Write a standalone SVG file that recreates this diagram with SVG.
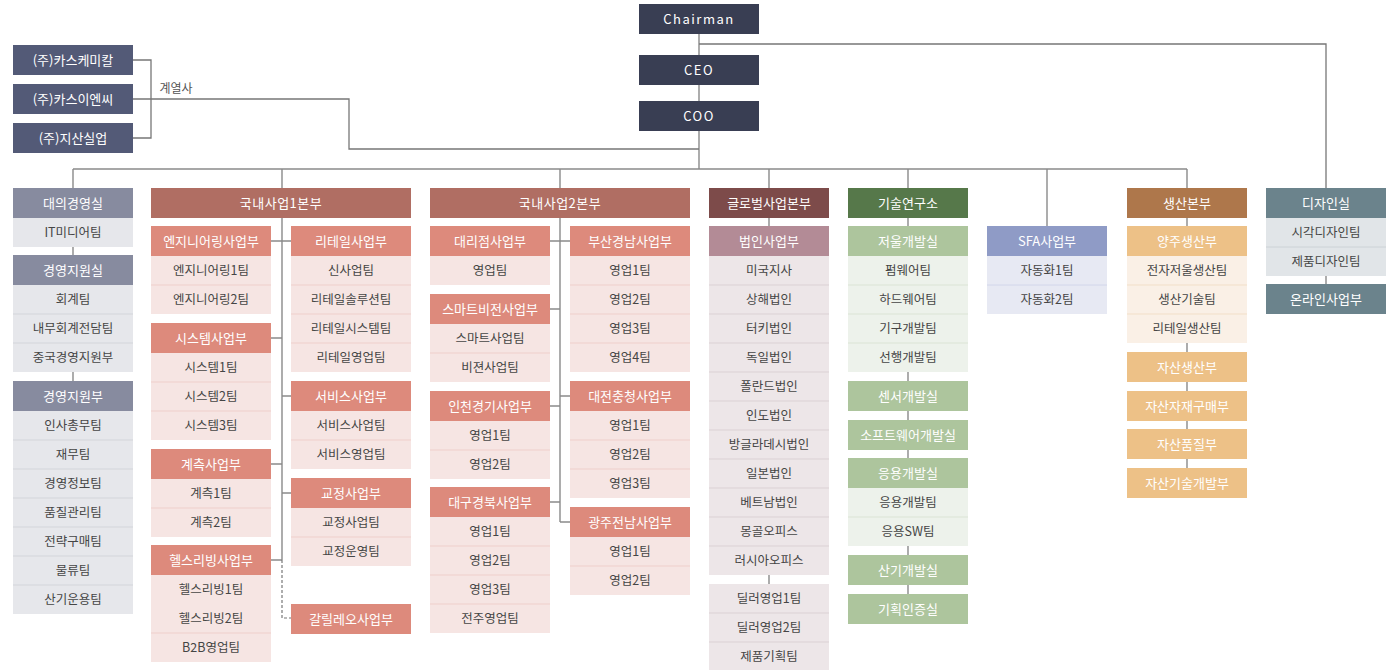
<svg xmlns="http://www.w3.org/2000/svg" width="1393" height="670" viewBox="0 0 1393 670">
<style>
text{font-family:"Noto Sans CJK KR","Noto Sans",sans-serif;text-anchor:middle;dominant-baseline:central;transform:translateY(-1px)}
.h{fill:#fff;font-size:13px}
.t{fill:#454545;font-size:12.5px}
.top{fill:#fff;font-size:13px;letter-spacing:1.5px}
.c{fill:none;stroke:#8a8a8a;stroke-width:1.4}
.c2{fill:none;stroke:#777;stroke-width:1.3}
.dash{fill:none;stroke:#777;stroke-width:1.2;stroke-dasharray:3 2}
.dv{stroke-width:1}
.navy{fill:#393e53}.aff{fill:#535a77}
.g1{fill:#878b9f}.g1i{fill:#e6e7eb}.g1d{stroke:#d3d5da}
.r1{fill:#b06e63}.r2{fill:#dd8a7c}.r2i{fill:#f6e5e3}.r2d{stroke:#efcfcb}
.m1{fill:#7d4b4a}.m2{fill:#b38b96}.m2i{fill:#ede6e8}.m2d{stroke:#dbd1d4}
.v1{fill:#56784a}.v2{fill:#adc59d}.v2i{fill:#edf2eb}.v2d{stroke:#dbe4d5}
.b2{fill:#8f9bc6}.b2i{fill:#e7e9f3}.b2d{stroke:#d2d6ea}
.o1{fill:#ae774b}.o2{fill:#edc187}.o2i{fill:#faf0e6}.o2d{stroke:#f2dfc8}
.s1{fill:#6b838c}.s1i{fill:#e1e5e8}.s1d{stroke:#ccd2d6}
</style>

<g id="connectors">
<path class="c" d="M699 34V55M699 85V101M699 131V169"/>
<path class="c2" d="M699 44H1326V188"/>
<path class="c2" d="M133 99H349V149H699"/>
<path class="c2" d="M133 60H151V138H133"/>
<text x="176" y="88" style="fill:#555;font-size:12px">계열사</text>
<path class="c" d="M73 169H1187"/>
<path class="c" d="M73 169V188M73 247V255M73 372V381"/>
<path class="c" d="M282 169V188M282 218V560M271 241H291M271 338H282M271 464H282M271 560H282M282 396H291M282 493H291"/>
<path class="dash" d="M282 560V618H291"/>
<path class="c" d="M560 169V188M560 218V522M550 241H570M550 309H560M550 406H560M550 502H560M560 396H570M560 522H570"/>
<path class="c" d="M769 169V188M769 218V226M769 575V584"/>
<path class="c" d="M908 169V188M908 218V226M908 372V381M908 411V420M908 450V458M908 546V555M908 585V594"/>
<path class="c" d="M1047 169V226"/>
<path class="c" d="M1187 169V188M1187 218V226M1187 343V352M1187 382V391M1187 421V429M1187 459V468"/>
<path class="c" d="M1326 276V284"/>
</g>

<g id="chairman"><rect class="navy" x="639" y="4" width="120" height="30"/><text class="top" x="699" y="19">Chairman</text></g>
<g id="ceo"><rect class="navy" x="639" y="55" width="120" height="30"/><text class="top" x="699" y="70">CEO</text></g>
<g id="coo"><rect class="navy" x="639" y="101" width="120" height="30"/><text class="top" x="699" y="116">COO</text></g>

<g id="aff-chemical"><rect class="aff" x="13" y="45" width="120" height="30"/><text class="h" x="73" y="60">(주)카스케미칼</text></g>
<g id="aff-enc"><rect class="aff" x="13" y="84" width="120" height="30"/><text class="h" x="73" y="99">(주)카스이엔씨</text></g>
<g id="aff-jisan"><rect class="aff" x="13" y="123" width="120" height="30"/><text class="h" x="73" y="138">(주)지산실업</text></g>

<!-- Column 1 -->
<g id="daeui">
<rect class="g1" x="13" y="188" width="120" height="30"/><text class="h" x="73" y="203">대의경영실</text>
<rect class="g1i" x="13" y="218" width="120" height="29"/><text class="t" x="73" y="232.5">IT미디어팀</text>
</g>
<g id="gyeongyeong-sil">
<rect class="g1" x="13" y="255" width="120" height="30"/><text class="h" x="73" y="270">경영지원실</text>
<rect class="g1i" x="13" y="285" width="120" height="87"/>
<path class="g1d dv" d="M13 314H133M13 343H133"/>
<text class="t" x="73" y="299.5">회계팀</text><text class="t" x="73" y="328.5">내무회계전담팀</text><text class="t" x="73" y="357.5">중국경영지원부</text>
</g>
<g id="gyeongyeong-bu">
<rect class="g1" x="13" y="381" width="120" height="30"/><text class="h" x="73" y="396">경영지원부</text>
<rect class="g1i" x="13" y="411" width="120" height="203"/>
<path class="g1d dv" d="M13 440H133M13 469H133M13 498H133M13 527H133M13 556H133M13 585H133"/>
<text class="t" x="73" y="425.5">인사총무팀</text><text class="t" x="73" y="454.5">재무팀</text><text class="t" x="73" y="483.5">경영정보팀</text><text class="t" x="73" y="512.5">품질관리팀</text><text class="t" x="73" y="541.5">전략구매팀</text><text class="t" x="73" y="570.5">물류팀</text><text class="t" x="73" y="599.5">산기운용팀</text>
</g>

<!-- 국내사업1본부 -->
<g id="domestic1"><rect class="r1" x="151" y="188" width="260" height="30"/><text class="h" x="281" y="203" style="letter-spacing:0.5px">국내사업1본부</text></g>
<g id="engineering">
<rect class="r2" x="151" y="226" width="120" height="30"/><text class="h" x="211" y="241">엔지니어링사업부</text>
<rect class="r2i" x="151" y="256" width="120" height="58"/><path class="r2d dv" d="M151 285H271"/>
<text class="t" x="211" y="270.5">엔지니어링1팀</text><text class="t" x="211" y="299.5">엔지니어링2팀</text>
</g>
<g id="system">
<rect class="r2" x="151" y="323" width="120" height="30"/><text class="h" x="211" y="338">시스템사업부</text>
<rect class="r2i" x="151" y="353" width="120" height="87"/><path class="r2d dv" d="M151 382H271M151 411H271"/>
<text class="t" x="211" y="367.5">시스템1팀</text><text class="t" x="211" y="396.5">시스템2팀</text><text class="t" x="211" y="425.5">시스템3팀</text>
</g>
<g id="measure">
<rect class="r2" x="151" y="449" width="120" height="30"/><text class="h" x="211" y="464">계측사업부</text>
<rect class="r2i" x="151" y="479" width="120" height="58"/><path class="r2d dv" d="M151 508H271"/>
<text class="t" x="211" y="493.5">계측1팀</text><text class="t" x="211" y="522.5">계측2팀</text>
</g>
<g id="healthliving">
<rect class="r2" x="151" y="545" width="120" height="30"/><text class="h" x="211" y="560">헬스리빙사업부</text>
<rect class="r2i" x="151" y="575" width="120" height="87"/><path class="r2d dv" d="M151 633H271"/>
<text class="t" x="211" y="589.5">헬스리빙1팀</text><text class="t" x="211" y="618.5">헬스리빙2팀</text><text class="t" x="211" y="647.5">B2B영업팀</text>
</g>
<g id="retail">
<rect class="r2" x="291" y="226" width="120" height="30"/><text class="h" x="351" y="241">리테일사업부</text>
<rect class="r2i" x="291" y="256" width="120" height="116"/><path class="r2d dv" d="M291 285H411M291 314H411M291 343H411"/>
<text class="t" x="351" y="270.5">신사업팀</text><text class="t" x="351" y="299.5">리테일솔루션팀</text><text class="t" x="351" y="328.5">리테일시스템팀</text><text class="t" x="351" y="357.5">리테일영업팀</text>
</g>
<g id="service">
<rect class="r2" x="291" y="381" width="120" height="30"/><text class="h" x="351" y="396">서비스사업부</text>
<rect class="r2i" x="291" y="411" width="120" height="58"/><path class="r2d dv" d="M291 440H411"/>
<text class="t" x="351" y="425.5">서비스사업팀</text><text class="t" x="351" y="454.5">서비스영업팀</text>
</g>
<g id="calibration">
<rect class="r2" x="291" y="478" width="120" height="30"/><text class="h" x="351" y="493">교정사업부</text>
<rect class="r2i" x="291" y="508" width="120" height="58"/><path class="r2d dv" d="M291 537H411"/>
<text class="t" x="351" y="522.5">교정사업팀</text><text class="t" x="351" y="551.5">교정운영팀</text>
</g>
<g id="galileo"><rect class="r2" x="291" y="604" width="120" height="30"/><text class="h" x="351" y="619">갈릴레오사업부</text></g>

<!-- 국내사업2본부 -->
<g id="domestic2"><rect class="r1" x="430" y="188" width="260" height="30"/><text class="h" x="560" y="203" style="letter-spacing:0.5px">국내사업2본부</text></g>
<g id="agency">
<rect class="r2" x="430" y="226" width="120" height="30"/><text class="h" x="490" y="241">대리점사업부</text>
<rect class="r2i" x="430" y="256" width="120" height="29"/><text class="t" x="490" y="270.5">영업팀</text>
</g>
<g id="smartvision">
<rect class="r2" x="430" y="294" width="120" height="30"/><text class="h" x="490" y="309">스마트비전사업부</text>
<rect class="r2i" x="430" y="324" width="120" height="58"/><path class="r2d dv" d="M430 353H550"/>
<text class="t" x="490" y="338.5">스마트사업팀</text><text class="t" x="490" y="367.5">비젼사업팀</text>
</g>
<g id="incheon">
<rect class="r2" x="430" y="391" width="120" height="30"/><text class="h" x="490" y="406">인천경기사업부</text>
<rect class="r2i" x="430" y="421" width="120" height="58"/><path class="r2d dv" d="M430 450H550"/>
<text class="t" x="490" y="435.5">영업1팀</text><text class="t" x="490" y="464.5">영업2팀</text>
</g>
<g id="daegu">
<rect class="r2" x="430" y="487" width="120" height="30"/><text class="h" x="490" y="502">대구경북사업부</text>
<rect class="r2i" x="430" y="517" width="120" height="116"/><path class="r2d dv" d="M430 546H550M430 575H550M430 604H550"/>
<text class="t" x="490" y="531.5">영업1팀</text><text class="t" x="490" y="560.5">영업2팀</text><text class="t" x="490" y="589.5">영업3팀</text><text class="t" x="490" y="618.5">전주영업팀</text>
</g>
<g id="busan">
<rect class="r2" x="570" y="226" width="120" height="30"/><text class="h" x="630" y="241">부산경남사업부</text>
<rect class="r2i" x="570" y="256" width="120" height="116"/><path class="r2d dv" d="M570 285H690M570 314H690M570 343H690"/>
<text class="t" x="630" y="270.5">영업1팀</text><text class="t" x="630" y="299.5">영업2팀</text><text class="t" x="630" y="328.5">영업3팀</text><text class="t" x="630" y="357.5">영업4팀</text>
</g>
<g id="daejeon">
<rect class="r2" x="570" y="381" width="120" height="30"/><text class="h" x="630" y="396">대전충청사업부</text>
<rect class="r2i" x="570" y="411" width="120" height="87"/><path class="r2d dv" d="M570 440H690M570 469H690"/>
<text class="t" x="630" y="425.5">영업1팀</text><text class="t" x="630" y="454.5">영업2팀</text><text class="t" x="630" y="483.5">영업3팀</text>
</g>
<g id="gwangju">
<rect class="r2" x="570" y="507" width="120" height="30"/><text class="h" x="630" y="522">광주전남사업부</text>
<rect class="r2i" x="570" y="537" width="120" height="58"/><path class="r2d dv" d="M570 566H690"/>
<text class="t" x="630" y="551.5">영업1팀</text><text class="t" x="630" y="580.5">영업2팀</text>
</g>

<!-- 글로벌 -->
<g id="global"><rect class="m1" x="709" y="188" width="120" height="30"/><text class="h" x="769" y="203">글로벌사업본부</text></g>
<g id="corporate">
<rect class="m2" x="709" y="226" width="120" height="30"/><text class="h" x="769" y="241">법인사업부</text>
<rect class="m2i" x="709" y="256" width="120" height="319"/>
<path class="m2d dv" d="M709 285H829M709 314H829M709 343H829M709 372H829M709 401H829M709 430H829M709 459H829M709 488H829M709 517H829M709 546H829"/>
<text class="t" x="769" y="270.5">미국지사</text><text class="t" x="769" y="299.5">상해법인</text><text class="t" x="769" y="328.5">터키법인</text><text class="t" x="769" y="357.5">독일법인</text><text class="t" x="769" y="386.5">폴란드법인</text><text class="t" x="769" y="415.5">인도법인</text><text class="t" x="769" y="444.5">방글라데시법인</text><text class="t" x="769" y="473.5">일본법인</text><text class="t" x="769" y="502.5">베트남법인</text><text class="t" x="769" y="531.5">몽골오피스</text><text class="t" x="769" y="560.5">러시아오피스</text>
</g>
<g id="dealer">
<rect class="m2i" x="709" y="584" width="120" height="87"/><path class="m2d dv" d="M709 613H829M709 642H829"/>
<text class="t" x="769" y="598.5">딜러영업1팀</text><text class="t" x="769" y="627.5">딜러영업2팀</text><text class="t" x="769" y="656.5">제품기획팀</text>
</g>

<!-- 기술연구소 -->
<g id="rnd"><rect class="v1" x="848" y="188" width="120" height="30"/><text class="h" x="908" y="203">기술연구소</text></g>
<g id="scale-dev">
<rect class="v2" x="848" y="226" width="120" height="30"/><text class="h" x="908" y="241">저울개발실</text>
<rect class="v2i" x="848" y="256" width="120" height="116"/><path class="v2d dv" d="M848 285H968M848 314H968M848 343H968"/>
<text class="t" x="908" y="270.5">펌웨어팀</text><text class="t" x="908" y="299.5">하드웨어팀</text><text class="t" x="908" y="328.5">기구개발팀</text><text class="t" x="908" y="357.5">선행개발팀</text>
</g>
<g id="sensor"><rect class="v2" x="848" y="381" width="120" height="30"/><text class="h" x="908" y="396">센서개발실</text></g>
<g id="software"><rect class="v2" x="848" y="420" width="120" height="30"/><text class="h" x="908" y="435">소프트웨어개발실</text></g>
<g id="app-dev">
<rect class="v2" x="848" y="458" width="120" height="30"/><text class="h" x="908" y="473">응용개발실</text>
<rect class="v2i" x="848" y="488" width="120" height="58"/><path class="v2d dv" d="M848 517H968"/>
<text class="t" x="908" y="502.5">응용개발팀</text><text class="t" x="908" y="531.5">응용SW팀</text>
</g>
<g id="industrial"><rect class="v2" x="848" y="555" width="120" height="30"/><text class="h" x="908" y="570">산기개발실</text></g>
<g id="planning"><rect class="v2" x="848" y="594" width="120" height="30"/><text class="h" x="908" y="609">기획인증실</text></g>

<!-- SFA -->
<g id="sfa">
<rect class="b2" x="987" y="226" width="120" height="30"/><text class="h" x="1047" y="241">SFA사업부</text>
<rect class="b2i" x="987" y="256" width="120" height="58"/><path class="b2d dv" d="M987 285H1107"/>
<text class="t" x="1047" y="270.5">자동화1팀</text><text class="t" x="1047" y="299.5">자동화2팀</text>
</g>

<!-- 생산본부 -->
<g id="production"><rect class="o1" x="1127" y="188" width="120" height="30"/><text class="h" x="1187" y="203">생산본부</text></g>
<g id="yangju">
<rect class="o2" x="1127" y="226" width="120" height="30"/><text class="h" x="1187" y="241">양주생산부</text>
<rect class="o2i" x="1127" y="256" width="120" height="87"/><path class="o2d dv" d="M1127 285H1247M1127 314H1247"/>
<text class="t" x="1187" y="270.5">전자저울생산팀</text><text class="t" x="1187" y="299.5">생산기술팀</text><text class="t" x="1187" y="328.5">리테일생산팀</text>
</g>
<g id="jasan-prod"><rect class="o2" x="1127" y="352" width="120" height="30"/><text class="h" x="1187" y="367">자산생산부</text></g>
<g id="jasan-purchase"><rect class="o2" x="1127" y="391" width="120" height="30"/><text class="h" x="1187" y="406">자산자재구매부</text></g>
<g id="jasan-quality"><rect class="o2" x="1127" y="429" width="120" height="30"/><text class="h" x="1187" y="444">자산품질부</text></g>
<g id="jasan-tech"><rect class="o2" x="1127" y="468" width="120" height="30"/><text class="h" x="1187" y="483">자산기술개발부</text></g>

<!-- 디자인실 -->
<g id="design">
<rect class="s1" x="1266" y="188" width="120" height="30"/><text class="h" x="1326" y="203">디자인실</text>
<rect class="s1i" x="1266" y="218" width="120" height="58"/><path class="s1d dv" d="M1266 247H1386"/>
<text class="t" x="1326" y="232.5">시각디자인팀</text><text class="t" x="1326" y="261.5">제품디자인팀</text>
</g>
<g id="online"><rect class="s1" x="1266" y="284" width="120" height="30"/><text class="h" x="1326" y="299">온라인사업부</text></g>
</svg>
